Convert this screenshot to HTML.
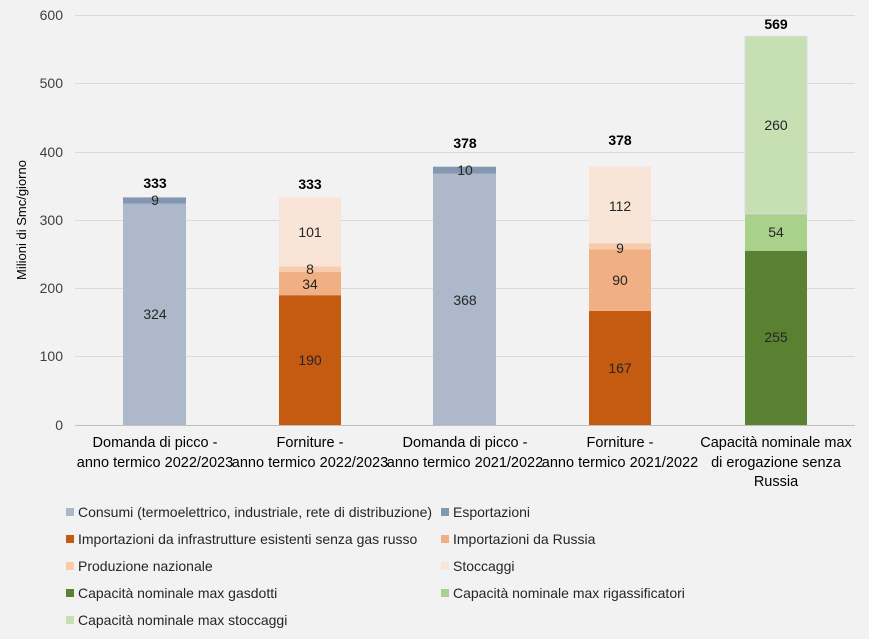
<!DOCTYPE html>
<html><head><meta charset="utf-8"><style>
body{margin:0;background:#f2f2f2}
svg{display:block;font-family:"Liberation Sans",sans-serif}
</style></head><body>
<svg width="869" height="639" viewBox="0 0 869 639">
<rect width="869" height="639" fill="#f2f2f2"/>
<g stroke="#d9d9d9" stroke-width="1">
<line x1="75" x2="855" y1="15.5" y2="15.5"/>
<line x1="75" x2="855" y1="83.5" y2="83.5"/>
<line x1="75" x2="855" y1="152.5" y2="152.5"/>
<line x1="75" x2="855" y1="220.5" y2="220.5"/>
<line x1="75" x2="855" y1="288.5" y2="288.5"/>
<line x1="75" x2="855" y1="356.5" y2="356.5"/>
<line x1="75" x2="855" y1="425.5" y2="425.5" stroke="#bfbfbf"/>
</g>
<g font-size="14" fill="#404040" text-anchor="end">
<text x="63" y="20">600</text><text x="63" y="88">500</text><text x="63" y="157">400</text>
<text x="63" y="225">300</text><text x="63" y="293">200</text><text x="63" y="361">100</text><text x="63" y="430">0</text>
</g>
<text transform="translate(26,220) rotate(-90)" font-size="13" text-anchor="middle" fill="#000">Milioni di Smc/giorno</text>
<rect x="123" y="203.6" width="63" height="221.4" fill="#adb9ca"/>
<rect x="123" y="197.4" width="63" height="6.2" fill="#8497b0"/>
<rect x="279" y="295.2" width="62" height="129.8" fill="#c55a11"/>
<rect x="279" y="271.9" width="62" height="23.3" fill="#f0b083"/>
<rect x="279" y="266.5" width="62" height="5.4" fill="#f8cbad"/>
<rect x="279" y="197.4" width="62" height="69.1" fill="#f9e5d7"/>
<rect x="433" y="173.5" width="63" height="251.5" fill="#adb9ca"/>
<rect x="433" y="166.7" width="63" height="6.8" fill="#8497b0"/>
<rect x="589" y="310.9" width="62" height="114.1" fill="#c55a11"/>
<rect x="589" y="249.4" width="62" height="61.5" fill="#f0b083"/>
<rect x="589" y="243.2" width="62" height="6.2" fill="#f8cbad"/>
<rect x="589" y="166.7" width="62" height="76.5" fill="#f9e5d7"/>
<rect x="745" y="250.75" width="62" height="174.25" fill="#5a8132"/>
<rect x="745" y="213.8" width="62" height="36.95" fill="#aad18c"/>
<rect x="745" y="36.2" width="62" height="177.6" fill="#c6e0b3" stroke="#d6dce4" stroke-width="1"/>
<g font-size="14" fill="#262626" text-anchor="middle">
<text x="155" y="319">324</text><text x="155" y="205">9</text>
<text x="310" y="365">190</text><text x="310" y="289">34</text><text x="310" y="274">8</text><text x="310" y="237">101</text>
<text x="465" y="305">368</text><text x="465" y="175">10</text>
<text x="620" y="373">167</text><text x="620" y="285">90</text><text x="620" y="253">9</text><text x="620" y="211">112</text>
<text x="776" y="342">255</text><text x="776" y="237">54</text><text x="776" y="130">260</text>
</g>
<g font-size="14" fill="#000" font-weight="bold" text-anchor="middle">
<text x="155" y="188">333</text><text x="310" y="189">333</text><text x="465" y="148">378</text><text x="620" y="145">378</text><text x="776" y="29">569</text>
</g>
<g font-size="14.5" fill="#000" text-anchor="middle">
<text x="155" y="447">Domanda di picco -</text><text x="155" y="467">anno termico 2022/2023</text>
<text x="310" y="447">Forniture -</text><text x="310" y="467">anno termico 2022/2023</text>
<text x="465" y="447">Domanda di picco -</text><text x="465" y="467">anno termico 2021/2022</text>
<text x="620" y="447">Forniture -</text><text x="620" y="467">anno termico 2021/2022</text>
<text x="776" y="447">Capacità nominale max</text><text x="776" y="467">di erogazione senza</text><text x="776" y="486">Russia</text>
</g>
<g font-size="14" fill="#262626">
<rect x="66" y="508" width="8" height="8" fill="#adb9ca"/><text x="78" y="517">Consumi (termoelettrico, industriale, rete di distribuzione)</text>
<rect x="441" y="508" width="8" height="8" fill="#8497b0"/><text x="453" y="517">Esportazioni</text>
<rect x="66" y="535" width="8" height="8" fill="#c55a11"/><text x="78" y="544">Importazioni da infrastrutture esistenti senza gas russo</text>
<rect x="441" y="535" width="8" height="8" fill="#f0b083"/><text x="453" y="544">Importazioni da Russia</text>
<rect x="66" y="562" width="8" height="8" fill="#f8cbad"/><text x="78" y="571">Produzione nazionale</text>
<rect x="441" y="562" width="8" height="8" fill="#f9e5d7"/><text x="453" y="571">Stoccaggi</text>
<rect x="66" y="589" width="8" height="8" fill="#5a8132"/><text x="78" y="598">Capacità nominale max gasdotti</text>
<rect x="441" y="589" width="8" height="8" fill="#aad18c"/><text x="453" y="598">Capacità nominale max rigassificatori</text>
<rect x="66" y="616" width="8" height="8" fill="#c6e0b3"/><text x="78" y="625">Capacità nominale max stoccaggi</text>
</g>
</svg>
</body></html>
